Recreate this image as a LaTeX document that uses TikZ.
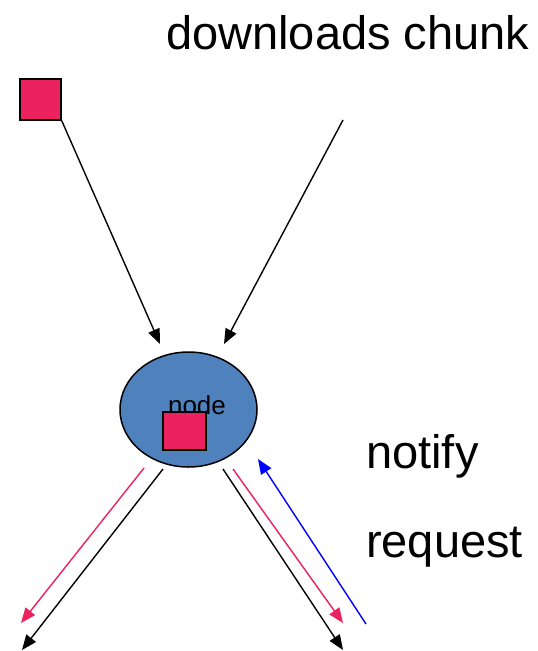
\documentclass[tikz,border=0pt]{standalone}
\usepackage{fontspec}
\setmainfont{Liberation Sans}
\usepackage{tikz}
\usetikzlibrary{shapes.geometric,arrows.meta,positioning}
\definecolor{ChunkPink}{HTML}{EC2160}
\definecolor{NodeBlue}{HTML}{4F81BD}
\definecolor{NotifyBlue}{HTML}{0000FF}
\tikzset{
  SQ/.style={rectangle,draw=black,line width=1.5pt,fill=ChunkPink,
             minimum width=41pt,minimum height=41pt,inner sep=0pt},
  EL/.style={ellipse,draw=black,line width=1.5pt,fill=NodeBlue,
             minimum width=137pt,minimum height=115pt,inner sep=0pt},
  arr/.style={-{Triangle[length=15pt,width=12pt]},line width=1.4pt,black},
  parr/.style={arr,ChunkPink,-{Triangle[length=15pt,width=12pt]}},
  barr/.style={arr,NotifyBlue},
  LB/.style={font=\fontsize{47}{50}\selectfont,inner sep=0pt,anchor=base west}
}
\begin{document}
\begin{tikzpicture}[x=1pt,y=-1pt]
  \useasboundingbox (0,0) rectangle (538,651);
  % chunk held by the seed
  \node[SQ] (src) at (40.5,99.5) {};
  \coordinate (tr) at (343,120);
  \node[LB] (dl) at (166,49) {downloads chunk};

  % the node
  \node[EL] (nd) at (188.5,409.5) {};
  \node[font=\fontsize{26}{28}\selectfont,inner sep=0pt] (ndl) at (197,405) {node};
  \node[SQ,minimum width=43pt,minimum height=38pt] (cp) at (184.5,431) {};

  \coordinate (inL) at (160,344);
  \coordinate (inR) at (224,344);
  \draw[arr] (src.south east)--(inL);
  \draw[arr] (tr)--(inR);

  % outgoing
  \coordinate (oLs) at (163,469);
  \coordinate (oLe) at (22,650);
  \coordinate (pLs) at (144,468);
  \coordinate (pLe) at (21,623);
  \coordinate (oRs) at (223,469);
  \coordinate (oRe) at (343,650);
  \coordinate (pRs) at (233,469);
  \coordinate (pRe) at (343,623);
  \coordinate (bRs) at (366,624);
  \coordinate (bRe) at (258,459);
  \draw[arr] (oLs)--(oLe);
  \draw[parr] (pLs)--(pLe);
  \draw[arr] (oRs)--(oRe);
  \draw[parr] (pRs)--(pRe);
  \draw[barr] (bRs)--(bRe);

  \node[LB] (nt) at (366,468) {notify};
  \node[LB] (rq) at (366,557) {request};
\end{tikzpicture}
\end{document}
